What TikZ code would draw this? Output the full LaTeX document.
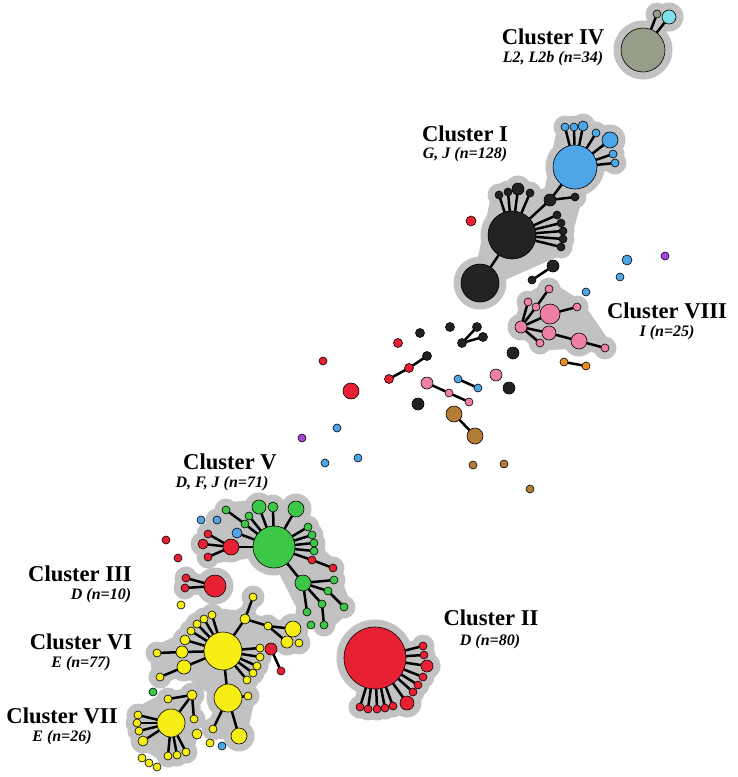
\documentclass[tikz,border=0pt]{standalone}
\usepackage{fontspec}
\setmainfont{Liberation Serif}
\definecolor{cblk}{RGB}{34,34,34}
\definecolor{cblu}{RGB}{77,166,232}
\definecolor{cred}{RGB}{232,32,52}
\definecolor{cgrn}{RGB}{60,200,70}
\definecolor{cyel}{RGB}{246,238,20}
\definecolor{cpnk}{RGB}{238,128,168}
\definecolor{cbrn}{RGB}{180,125,55}
\definecolor{corg}{RGB}{240,140,30}
\definecolor{cpur}{RGB}{165,70,215}
\definecolor{cgry}{RGB}{150,158,138}
\definecolor{ccyn}{RGB}{128,224,232}
\definecolor{halocol}{RGB}{194,194,194}
\pgfdeclarelayer{halo}
\pgfdeclarelayer{edges}
\pgfsetlayers{halo,edges,main}
\tikzset{
 nd/.style={circle, draw=black, line width=0.6pt, inner sep=0pt, outer sep=0pt},
 conn/.style={draw=black, line width=2.5pt},
 hull/.style={fill=halocol, draw=halocol, line width=15pt, line join=round},
 ttl/.style={font=\bfseries\fontsize{22.6}{26}\selectfont, inner sep=0pt},
 subt/.style={font=\bfseries\itshape\fontsize{16}{18}\selectfont, inner sep=0pt}
}
\newcommand\mynd[5]{\node[nd,fill=#2,minimum size={2*#5}] (#1) at (#3,#4) {};}
\newcommand\myhn[5]{\mynd{#1}{#2}{#3}{#4}{#5}\begin{pgfonlayer}{halo}\fill[halocol] (#3,#4) circle[radius={#5+7.5}];\end{pgfonlayer}}
\begin{document}
\begin{tikzpicture}[x=1pt,y=-1pt]
\useasboundingbox (0,0) rectangle (737,777);
% ---------- Cluster IV
\myhn{ivA}{cgry}{643}{50}{22}
\myhn{ivB}{cgry}{657}{14}{4}
\myhn{ivC}{ccyn}{669}{17}{7}
% ---------- Cluster I
\myhn{B0}{cblu}{575}{167}{22}
\myhn{b1}{cblu}{565}{127}{4}
\myhn{b2}{cblu}{574}{127}{4}
\myhn{b3}{cblu}{583}{126}{5}
\myhn{b4}{cblu}{596}{133}{4}
\myhn{b5}{cblu}{610}{140}{8}
\myhn{b6}{cblu}{613}{154}{4}
\myhn{b7}{cblu}{615}{163}{4}
\myhn{K0}{cblk}{512}{235}{24}
\myhn{K1}{cblk}{480}{283}{19}
\myhn{kt1}{cblk}{499}{195}{4}
\myhn{kt2}{cblk}{508}{192}{4}
\myhn{kt3}{cblk}{518}{189}{6}
\myhn{kt4}{cblk}{530}{193}{4}
\myhn{k1}{cblk}{550}{200}{6}
\myhn{k2}{cblk}{575}{197}{4}
\myhn{kr1}{cblk}{557}{215}{4}
\myhn{kr2}{cblk}{561}{223}{4}
\myhn{kr3}{cblk}{563}{231}{4}
\myhn{kr4}{cblk}{563}{239}{4}
\myhn{kr5}{cblk}{561}{247}{4}
\mynd{fr1}{cred}{471}{221}{5}
% ---------- Cluster VIII
\myhn{P0}{cpnk}{521}{327}{6}
\myhn{p1}{cpnk}{528}{302}{4}
\myhn{p2}{cpnk}{536}{307}{4}
\myhn{p3}{cpnk}{549}{289}{4}
\myhn{P1}{cpnk}{550}{314}{10}
\myhn{p4}{cpnk}{577}{307}{4}
\myhn{P2}{cpnk}{549}{333}{7}
\myhn{p5}{cpnk}{540}{343}{4}
\myhn{P3}{cpnk}{579}{341}{8}
\myhn{p6}{cpnk}{605}{348}{4}
% ---------- free nodes (middle)
\mynd{fb1}{cblu}{627}{260}{5}
\mynd{fu1}{cpur}{665}{256}{4}
\mynd{fb2}{cblu}{620}{277}{4}
\mynd{fb3}{cblu}{586}{292}{4}
\mynd{fk1}{cblk}{553}{266}{6}
\mynd{fk2}{cblk}{532}{280}{4}
\mynd{fo1}{corg}{564}{362}{4}
\mynd{fo2}{corg}{586}{366}{4}
\mynd{fk3}{cblk}{420}{333}{4.5}
\mynd{fk4}{cblk}{450}{327}{4.5}
\mynd{fk5}{cblk}{477}{327}{4.5}
\mynd{fk6}{cblk}{483}{337}{4.5}
\mynd{fk7}{cblk}{462}{343}{4.5}
\mynd{fr2}{cred}{398}{343}{4.5}
\mynd{fr3}{cred}{323}{361}{4}
\mynd{fk8}{cblk}{427}{356}{4.5}
\mynd{fr4}{cred}{409}{368}{4.5}
\mynd{fr5}{cred}{389}{379}{4.5}
\mynd{fr6}{cred}{351}{391}{8}
\mynd{fp2}{cpnk}{427}{383}{6}
\mynd{fp3}{cpnk}{449}{393}{4}
\mynd{fp4}{cpnk}{469}{402}{4}
\mynd{fb4}{cblu}{458}{379}{4}
\mynd{fb5}{cblu}{478}{388}{4}
\mynd{fp5}{cpnk}{496}{375}{6}
\mynd{fk9}{cblk}{513}{353}{6}
\mynd{fk10}{cblk}{509}{388}{6}
\mynd{fk11}{cblk}{418}{404}{6}
\mynd{fn1}{cbrn}{454}{414}{8}
\mynd{fn2}{cbrn}{475}{436}{8}
\mynd{fn3}{cbrn}{473}{465}{4}
\mynd{fn4}{cbrn}{504}{464}{4}
\mynd{fn5}{cbrn}{530}{489}{4}
\mynd{fb6}{cblu}{337}{428}{4}
\mynd{fu2}{cpur}{302}{438}{4}
\mynd{fb7}{cblu}{325}{463}{4}
\mynd{fb8}{cblu}{358}{458}{4}
% ---------- Cluster V
\myhn{G0}{cgrn}{274}{547}{21}
\myhn{g1}{cgrn}{259}{507}{7}
\myhn{g2}{cgrn}{273}{507}{5}
\myhn{g3}{cgrn}{296}{509}{8}
\myhn{g4}{cgrn}{226}{510}{4}
\myhn{g5}{cgrn}{249}{516}{4}
\myhn{g6}{cgrn}{245}{524}{4}
\myhn{c1}{cblu}{237}{533}{5}
\myhn{c2}{cblu}{217}{520}{4}
\mynd{c3}{cblu}{201}{520}{4}
\myhn{g7}{cgrn}{308}{527}{4}
\myhn{g8}{cgrn}{312}{535}{4}
\myhn{g9}{cgrn}{314}{543}{4}
\myhn{g10}{cgrn}{314}{551}{4}
\myhn{rr1}{cred}{312}{560}{4}
\myhn{rr2}{cred}{333}{568}{4}
\myhn{G1}{cgrn}{303}{583}{8}
\myhn{ga}{cgrn}{334}{580}{4}
\myhn{gb}{cgrn}{328}{591}{4}
\myhn{gc}{cgrn}{322}{604}{4}
\myhn{gd}{cgrn}{344}{607}{4}
\myhn{ge}{cgrn}{307}{612}{4}
\myhn{gf}{cgrn}{324}{625}{4}
\mynd{gg}{cgrn}{311}{625}{4}
\myhn{R5}{cred}{231}{547}{8}
\myhn{r51}{cred}{208}{534}{4}
\myhn{r52}{cred}{203}{544}{5}
\myhn{r53}{cred}{208}{557}{4}
\mynd{fr7}{cred}{166}{540}{4}
\mynd{fr8}{cred}{178}{558}{4}
% ---------- Cluster III
\myhn{R3}{cred}{215}{586}{11}
\myhn{r31}{cred}{186}{578}{4}
\myhn{r32}{cred}{185}{588}{4}
\mynd{fy1}{cyel}{181}{605}{4}
% ---------- Cluster VI
\myhn{Y0}{cyel}{223}{651}{19}
\myhn{y1}{cyel}{245}{619}{5}
\myhn{y2}{cyel}{253}{597}{4}
\myhn{y3}{cyel}{268}{626}{4}
\myhn{y4}{cyel}{293}{629}{8}
\myhn{y5}{cyel}{287}{642}{6}
\myhn{y6}{cyel}{299}{643}{4}
\myhn{l1}{cyel}{212}{615}{4}
\myhn{l2}{cyel}{204}{619}{4}
\myhn{l3}{cyel}{197}{624}{4}
\myhn{l4}{cyel}{191}{631}{4}
\myhn{l5}{cyel}{185}{640}{5}
\myhn{l6}{cyel}{182}{652}{6}
\myhn{l7}{cyel}{157}{653}{4}
\myhn{l8}{cyel}{184}{667}{7}
\myhn{l9}{cyel}{160}{677}{4}
\myhn{rt1}{cyel}{260}{648}{4}
\myhn{rt2}{cyel}{260}{657}{4}
\myhn{rt3}{cyel}{257}{666}{4}
\myhn{rt4}{cyel}{253}{673}{4}
\myhn{rt5}{cyel}{247}{680}{4}
\mynd{ry1}{cred}{271}{649}{6}
\mynd{ry2}{cred}{281}{671}{4}
\myhn{Y1}{cyel}{228}{698}{14}
\myhn{y7}{cyel}{248}{696}{4}
\myhn{y8}{cyel}{213}{729}{4}
\myhn{y9}{cyel}{239}{736}{8}
\mynd{fg1}{cgrn}{153}{692}{4}
% ---------- Cluster VII
\myhn{Y2}{cyel}{171}{723}{14}
\myhn{v1}{cyel}{192}{695}{5}
\myhn{v2}{cyel}{168}{699}{4}
\myhn{v3}{cyel}{194}{719}{4}
\myhn{v4}{cyel}{138}{715}{4}
\myhn{v5}{cyel}{137}{723}{4}
\myhn{v6}{cyel}{139}{731}{4}
\myhn{v7}{cyel}{143}{741}{5}
\myhn{v8}{cyel}{168}{756}{4}
\myhn{v9}{cyel}{177}{755}{4}
\myhn{v10}{cyel}{186}{752}{4}
\mynd{w1}{cyel}{142}{758}{4}
\mynd{w2}{cyel}{149}{763}{4}
\mynd{w3}{cyel}{157}{767}{4}
\mynd{fy2}{cyel}{197}{734}{5}
\mynd{fy3}{cyel}{210}{743}{4}
\mynd{fb9}{cblu}{222}{746}{4}
% ---------- Cluster II
\myhn{R2}{cred}{375}{658}{31}
\myhn{s1}{cred}{423}{646}{4}
\myhn{s2}{cred}{424}{655}{4}
\myhn{s3}{cred}{427}{666}{6}
\myhn{s4}{cred}{423}{677}{4}
\myhn{s5}{cred}{418}{685}{4}
\myhn{s6}{cred}{413}{692}{4}
\myhn{s7}{cred}{407}{703}{7}
\myhn{s8}{cred}{360}{707}{4}
\myhn{s9}{cred}{368}{709}{4}
\myhn{s10}{cred}{377}{709}{4}
\myhn{s11}{cred}{385}{708}{4}
\myhn{s12}{cred}{393}{706}{4}
% ---------- halos
\begin{pgfonlayer}{halo}
\path[hull] (ivA.center) -- (ivB.center) -- (ivC.center) -- cycle;
\path[hull] (K1.center) -- (kt1.center) -- (kt3.center) -- (k1.center) -- (b1.center) -- (b3.center) -- (b5.center) -- (b7.center) -- (B0.center) -- (k2.center) -- (kr5.center) -- cycle;
\path[hull] (p3.center) -- (p4.center) -- (p6.center) -- (P3.center) -- (p5.center) -- (P0.center) -- (p1.center) -- cycle;
\path[hull] (c2.center) -- (g4.center) -- (g1.center) -- (g3.center) -- (g7.center) -- (g10.center) -- (rr2.center) -- (ga.center) -- (gd.center) -- (gf.center) -- (ge.center) -- (G0.center) -- (r53.center) -- (r52.center) -- (r51.center) -- cycle;
\path[hull] (r31.center) -- (r32.center) -- (R3.center) -- cycle;
\path[hull] (l9.center) -- (l7.center) -- (l5.center) -- (l3.center) -- (l1.center) -- (y1.center) -- (y2.center) -- (y1.center) -- (y3.center) -- (y4.center) -- (y6.center) -- (y5.center) -- (rt1.center) -- (rt5.center) -- (y7.center) -- (y9.center) -- (y8.center) -- (Y1.center) -- (l8.center) -- cycle;
\path[hull] (v1.center) -- (v3.center) -- (v10.center) -- (v8.center) -- (v7.center) -- (v4.center) -- (v2.center) -- cycle;
\path[hull] (s1.center) -- (s7.center) -- (s12.center) -- (s8.center) -- (R2.center) -- cycle;
\end{pgfonlayer}
% ---------- connectors
\begin{pgfonlayer}{edges}
\foreach \a/\b in {ivA/ivB, ivA/ivC,
 B0/b1, B0/b2, B0/b3, B0/b4, B0/b5, B0/b6, B0/b7,
 K0/kt1, K0/kt2, K0/kt3, K0/kt4, K0/k1, k1/B0, k1/k2,
 K0/kr1, K0/kr2, K0/kr3, K0/kr4, K0/kr5, K0/K1,
 P0/p1, P0/p2, p2/p3, P0/P1, P1/p4, P0/P2, P0/p5, P2/P3, P3/p6,
 fk1/fk2, fo1/fo2, fk7/fk5, fk7/fk6, fk8/fr4, fr4/fr5,
 fp2/fp3, fp3/fp4, fb4/fb5, fn1/fn2,
 G0/g1, G0/g2, G0/g3, G0/g5, G0/g6, g6/g4, G0/c1,
 G0/g7, G0/g8, G0/g9, G0/g10, G0/rr1, rr1/rr2,
 G0/G1, G1/ga, G1/gb, gb/gd, G1/gc, gc/gf, G1/ge,
 G0/R5, R5/r51, R5/r52, R5/r53,
 R3/r31, R3/r32,
 Y0/y1, y1/y2, y1/y3, y3/y4, y3/y5,
 Y0/l1, Y0/l2, Y0/l3, Y0/l4, Y0/l5, Y0/l6, l6/l7, Y0/l8, l8/l9,
 Y0/rt1, Y0/rt2, Y0/rt3, Y0/rt4, Y0/rt5, ry1/ry2,
 Y0/Y1, Y1/y7, Y1/y8, Y1/y9,
 Y2/v1, v1/v2, v1/v3, Y2/v4, Y2/v5, Y2/v6, Y2/v7, Y2/v8, Y2/v9, Y2/v10,
 R2/s1, R2/s2, R2/s3, R2/s4, R2/s5, R2/s6, R2/s7,
 R2/s8, R2/s9, R2/s10, R2/s11, R2/s12}
 {\draw[conn] (\a) -- (\b);}
\end{pgfonlayer}
% ---------- labels
\node[ttl] (tIV) at (553,37) {Cluster IV};
\node[subt] (sIV) at (553,59) {L2, L2b (n=34)};
\node[ttl] (tI) at (465,134) {Cluster I};
\node[subt] (sI) at (465,155) {G, J (n=128)};
\node[ttl] (tVIII) at (667,311) {Cluster VIII};
\node[subt] (sVIII) at (667,333) {I (n=25)};
\node[ttl] (tV) at (230,462) {Cluster V};
\node[subt] (sV) at (222,484) {D, F, J (n=71)};
\node[ttl] (tIII) at (80,574) {Cluster III};
\node[subt] (sIII) at (101,596) {D (n=10)};
\node[ttl] (tVI) at (81,642) {Cluster VI};
\node[subt] (sVI) at (81,664) {E (n=77)};
\node[ttl] (tVII) at (62,716) {Cluster VII};
\node[subt] (sVII) at (62,738) {E (n=26)};
\node[ttl] (tII) at (491,618) {Cluster II};
\node[subt] (sII) at (490,642) {D (n=80)};
\end{tikzpicture}
\end{document}
